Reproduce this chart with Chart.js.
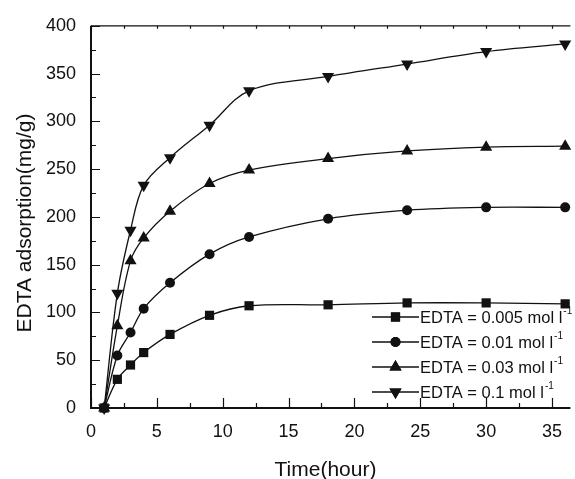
<!DOCTYPE html>
<html>
<head>
<meta charset="utf-8">
<script src="https://cdn.jsdelivr.net/npm/chart.js@4.4.1/dist/chart.umd.min.js"></script>
<style>
  html, body { margin: 0; padding: 0; background: #fff; }
  #wrap { width: 575px; height: 479px; }
</style>
</head>
<body>
<div id="wrap"><canvas id="c" width="575" height="479"></canvas></div>
<script>
// ── Dados ──
const times   = [1, 2, 3, 4, 6, 9, 12, 18, 24, 30, 36];
const edta005 = [0, 30, 45, 58, 77, 97, 107, 108, 110, 110, 109];
const edta001 = [0, 55, 79, 104, 131, 161, 179, 198, 207, 210, 210];
const edta003 = [0, 86, 154, 178, 206, 235, 249, 261, 269, 273, 274];
const edta01  = [0, 120, 186, 233, 262, 296, 332, 347, 360, 373, 381];

const seriesLabels = ['EDTA = 0.005 mol l', 'EDTA = 0.01 mol l', 'EDTA = 0.03 mol l', 'EDTA = 0.1 mol l'];
const xTicks = [0, 5, 10, 15, 20, 25, 30, 35];
const yTicks = [0, 50, 100, 150, 200, 250, 300, 350, 400];

const FONT = '"Liberation Sans", Arial, Helvetica, sans-serif';

const toPts = vals => vals.map((v, i) => ({ x: times[i], y: v }));

const markers = [
  { pointStyle: 'rect',     radius: 6.5, rotation: 0 },
  { pointStyle: 'circle',   radius: 5,   rotation: 0 },
  { pointStyle: 'triangle', radius: 7,   rotation: 0 },
  { pointStyle: 'triangle', radius: 7,   rotation: 180 },
];

const allSeries = [edta005, edta001, edta003, edta01];

const datasets = allSeries.map((vals, i) => ({
  label: seriesLabels[i],
  data: toPts(vals),
  borderColor: '#111',
  backgroundColor: '#111',
  borderWidth: 1.3,
  pointStyle: markers[i].pointStyle,
  pointRadius: markers[i].radius,
  pointRotation: markers[i].rotation,
  pointBorderWidth: 0,
  tension: 0.35,
  clip: false,
}));

// ── Moldura, ticks internos, títulos e legenda ──
const framePlugin = {
  id: 'framePlugin',
  afterDraw(chart) {
    const { ctx, chartArea: a, scales: { x, y } } = chart;
    ctx.save();
    ctx.strokeStyle = '#111';

    // eixos esquerdo e inferior (mais grossos)
    ctx.lineWidth = 2;
    ctx.beginPath();
    ctx.moveTo(a.left, a.top);
    ctx.lineTo(a.left, a.bottom);
    ctx.lineTo(a.right, a.bottom);
    ctx.stroke();
    // topo
    ctx.lineWidth = 1.2;
    ctx.beginPath();
    ctx.moveTo(a.left, a.top);
    ctx.lineTo(a.right, a.top);
    ctx.stroke();

    ctx.lineWidth = 1.2;
    ctx.beginPath();
    for (let v = 0; v <= x.max; v += 2.5) {
      const px = Math.round(x.getPixelForValue(v)) + 0.5;
      const major = v % 5 === 0;
      ctx.moveTo(px, a.bottom);
      ctx.lineTo(px, a.bottom - (major ? 10 : 5));
      ctx.moveTo(px, a.top);
      ctx.lineTo(px, a.top + 3);
    }
    for (let v = 0; v <= y.max; v += 25) {
      const py = Math.round(y.getPixelForValue(v)) + 0.5;
      const major = v % 50 === 0;
      ctx.moveTo(a.left, py);
      ctx.lineTo(a.left + (major ? 9 : 5), py);
    }
    ctx.stroke();

    // títulos dos eixos
    ctx.fillStyle = '#111';
    ctx.font = '21px ' + FONT;
    ctx.textAlign = 'center';
    ctx.textBaseline = 'alphabetic';
    ctx.fillText('Time(hour)', 325.5, 476);
    ctx.save();
    ctx.translate(31, 223);
    ctx.rotate(-Math.PI / 2);
    ctx.fillText('EDTA adsorption(mg/g)', 0, 0);
    ctx.restore();

    // legenda dentro da área do gráfico
    const rowY = [317, 342, 367, 392];
    chart.data.datasets.forEach((ds, i) => {
      const yy = rowY[i];
      ctx.lineWidth = 1.3;
      ctx.beginPath();
      ctx.moveTo(372, yy);
      ctx.lineTo(419, yy);
      ctx.stroke();
      Chart.helpers.drawPoint(ctx, {
        pointStyle: ds.pointStyle,
        radius: ds.pointRadius,
        rotation: ds.pointRotation,
        borderWidth: 0,
      }, 395.5, yy);
      ctx.fill();
      ctx.textAlign = 'left';
      ctx.textBaseline = 'middle';
      ctx.font = '16.5px ' + FONT;
      ctx.fillText(ds.label, 420, yy + 1);
      const w = ctx.measureText(ds.label).width;
      ctx.font = '10px ' + FONT;
      ctx.fillText('-1', 420 + w + 1, yy - 6);
    });
    ctx.restore();
  },
};

new Chart(document.getElementById('c'), {
  type: 'line',
  data: { datasets },
  options: {
    responsive: false,
    animation: false,
    layout: { autoPadding: false, padding: { top: 21.7, right: 0, bottom: 0, left: 0 } },
    plugins: { legend: { display: false }, tooltip: { enabled: false } },
    scales: {
      x: {
        type: 'linear',
        min: 0,
        max: 36.4,
        afterBuildTicks: s => { s.ticks = xTicks.map(v => ({ value: v })); },
        afterFit: s => { s.height = 71; },
        grid: { display: false, drawTicks: false },
        border: { display: false },
        ticks: { color: '#111', font: { family: FONT, size: 18 }, padding: 13, maxRotation: 0 },
      },
      y: {
        min: 0,
        max: 400,
        afterBuildTicks: s => { s.ticks = yTicks.map(v => ({ value: v })); },
        afterFit: s => { s.width = 91; },
        grid: { display: false, drawTicks: false },
        border: { display: false },
        ticks: { color: '#111', font: { family: FONT, size: 18 }, padding: 15 },
      },
    },
  },
  plugins: [framePlugin],
});
</script>
</body>
</html>
